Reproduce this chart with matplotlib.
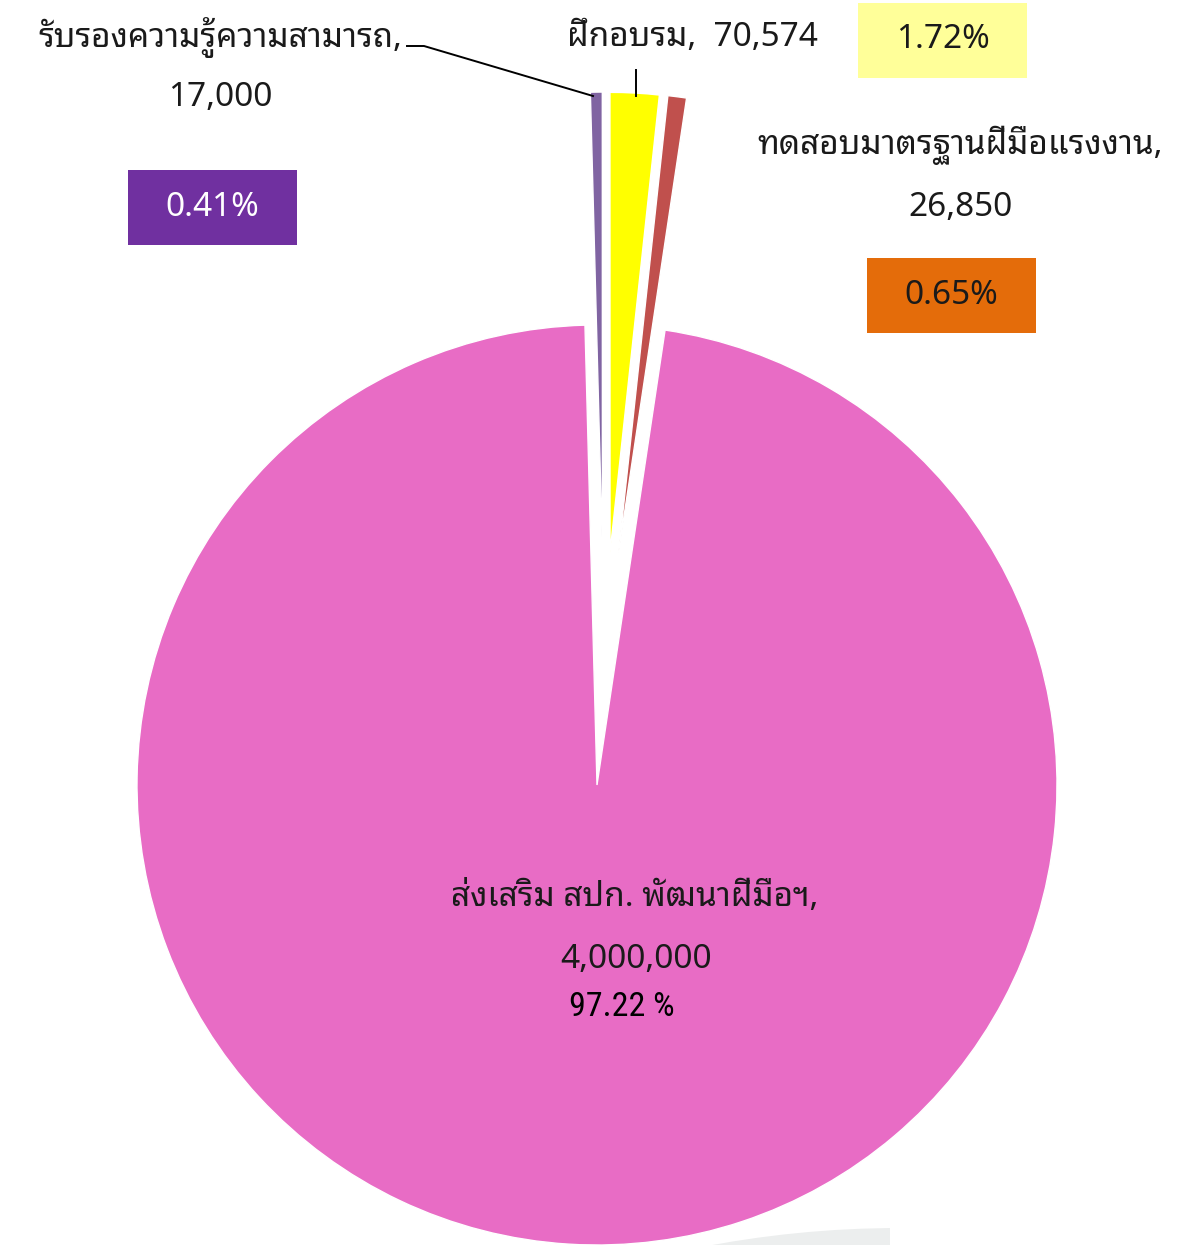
import math
import matplotlib
matplotlib.use("Agg")
import matplotlib.pyplot as plt
from matplotlib.patches import Rectangle, Circle

# data (clockwise from the top)
names = ["รับรองความรู้ความสามารถ,", "ฝึกอบรม,", "ทดสอบมาตรฐานฝีมือแรงงาน,", "ส่งเสริม สปก. พัฒนาฝีมือฯ,"]
values = [17000, 70574, 26850, 4000000]
slice_colors = ["#8064A2", "#FFFF00", "#C0504D", "#E86CC5"]
box_colors = ["#7030A0", "#FFFF99", "#E46C0A", None]
box_text = ["white", "#1a1a1a", "#1a1a1a", "black"]

total = sum(values)
pcts = [v / total * 100 for v in values]

W, H = 1191, 1245
THAI = ["Noto Sans Thai Looped", "DejaVu Sans"]
NARROW = ["Roboto Condensed", "Liberation Sans Narrow", "DejaVu Sans"]
plt.rcParams["font.family"] = THAI


def py(y):
    return H - y


fig = plt.figure(figsize=(W / 100, H / 100), dpi=100)
ax = fig.add_axes([0, 0, 1, 1])

# faint grey shape peeking in at the bottom
bg = Circle((900, py(1228 + 1044)), 1044, facecolor="#eceeee", edgecolor="none", zorder=0)
ax.add_patch(bg)
bg.set_clip_path(Rectangle((0, 0), 890, H, transform=ax.transData))

cx, cy = 597, py(785)
wedges, _ = ax.pie(values, colors=slice_colors, startangle=91.5, counterclock=False,
                   center=(cx, cy), radius=460,
                   wedgeprops=dict(edgecolor="white", linewidth=1.0), frame=False)

# pull the small slices out (Excel style: slightly narrower fan than the bisectors)
for w in wedges[:3]:
    mid = (w.theta1 + w.theta2) / 2
    dev = 90 - mid
    ang = math.radians(90 - (1.7 + 0.49 * dev))
    w.set_center((cx + 233 * math.cos(ang), cy + 233 * math.sin(ang)))

ax.set_xlim(0, W)
ax.set_ylim(0, H)
ax.set_aspect("equal")
ax.axis("off")

fs = 24
fw = "medium"
txt = "#1a1a1a"

# รับรองความรู้ความสามารถ
ax.text(220, py(38), names[0], ha="center", va="center", fontsize=fs, color=txt, weight=fw)
ax.text(220, py(98), f"{values[0]:,}", ha="center", va="center", fontsize=fs, color=txt, weight=fw)
ax.plot([407, 424, 593], [py(46), py(46), py(96)], color="black", lw=1.4)

# ฝึกอบรม
ax.text(692, py(38), f"{names[1]}  {values[1]:,}", ha="center", va="center", fontsize=fs,
        color=txt, weight=fw)
ax.plot([636, 636], [py(70), py(96)], color="black", lw=1.4)

# ทดสอบมาตรฐานฝีมือแรงงาน
ax.text(960, py(145), names[2], ha="center", va="center", fontsize=fs, color=txt, weight=fw)
ax.text(960, py(208), f"{values[2]:,}", ha="center", va="center", fontsize=fs, color=txt, weight=fw)

# percentage boxes
boxes = [(128, 170), (858, 3), (867, 258)]
for i, (bx, by) in enumerate(boxes):
    ax.add_patch(Rectangle((bx, py(by + 75)), 169, 75, facecolor=box_colors[i],
                           edgecolor="none", zorder=3))
    ax.text(bx + 84.5, py(by + 37), f"{pcts[i]:.2f}%", ha="center", va="center",
            fontsize=fs, color=box_text[i], weight=fw, zorder=4)

# main slice label
ax.text(635, py(897), names[3], ha="center", va="center", fontsize=fs, color=txt, weight=fw)
ax.text(636, py(960), f"{values[3]:,}", ha="center", va="center", fontsize=fs, color=txt, weight=fw)
ax.text(622, py(1007), f"{pcts[3]:.2f} %", ha="center", va="center", fontsize=24.5,
        color="black", family=NARROW)

fig.savefig("out.png", dpi=100)
